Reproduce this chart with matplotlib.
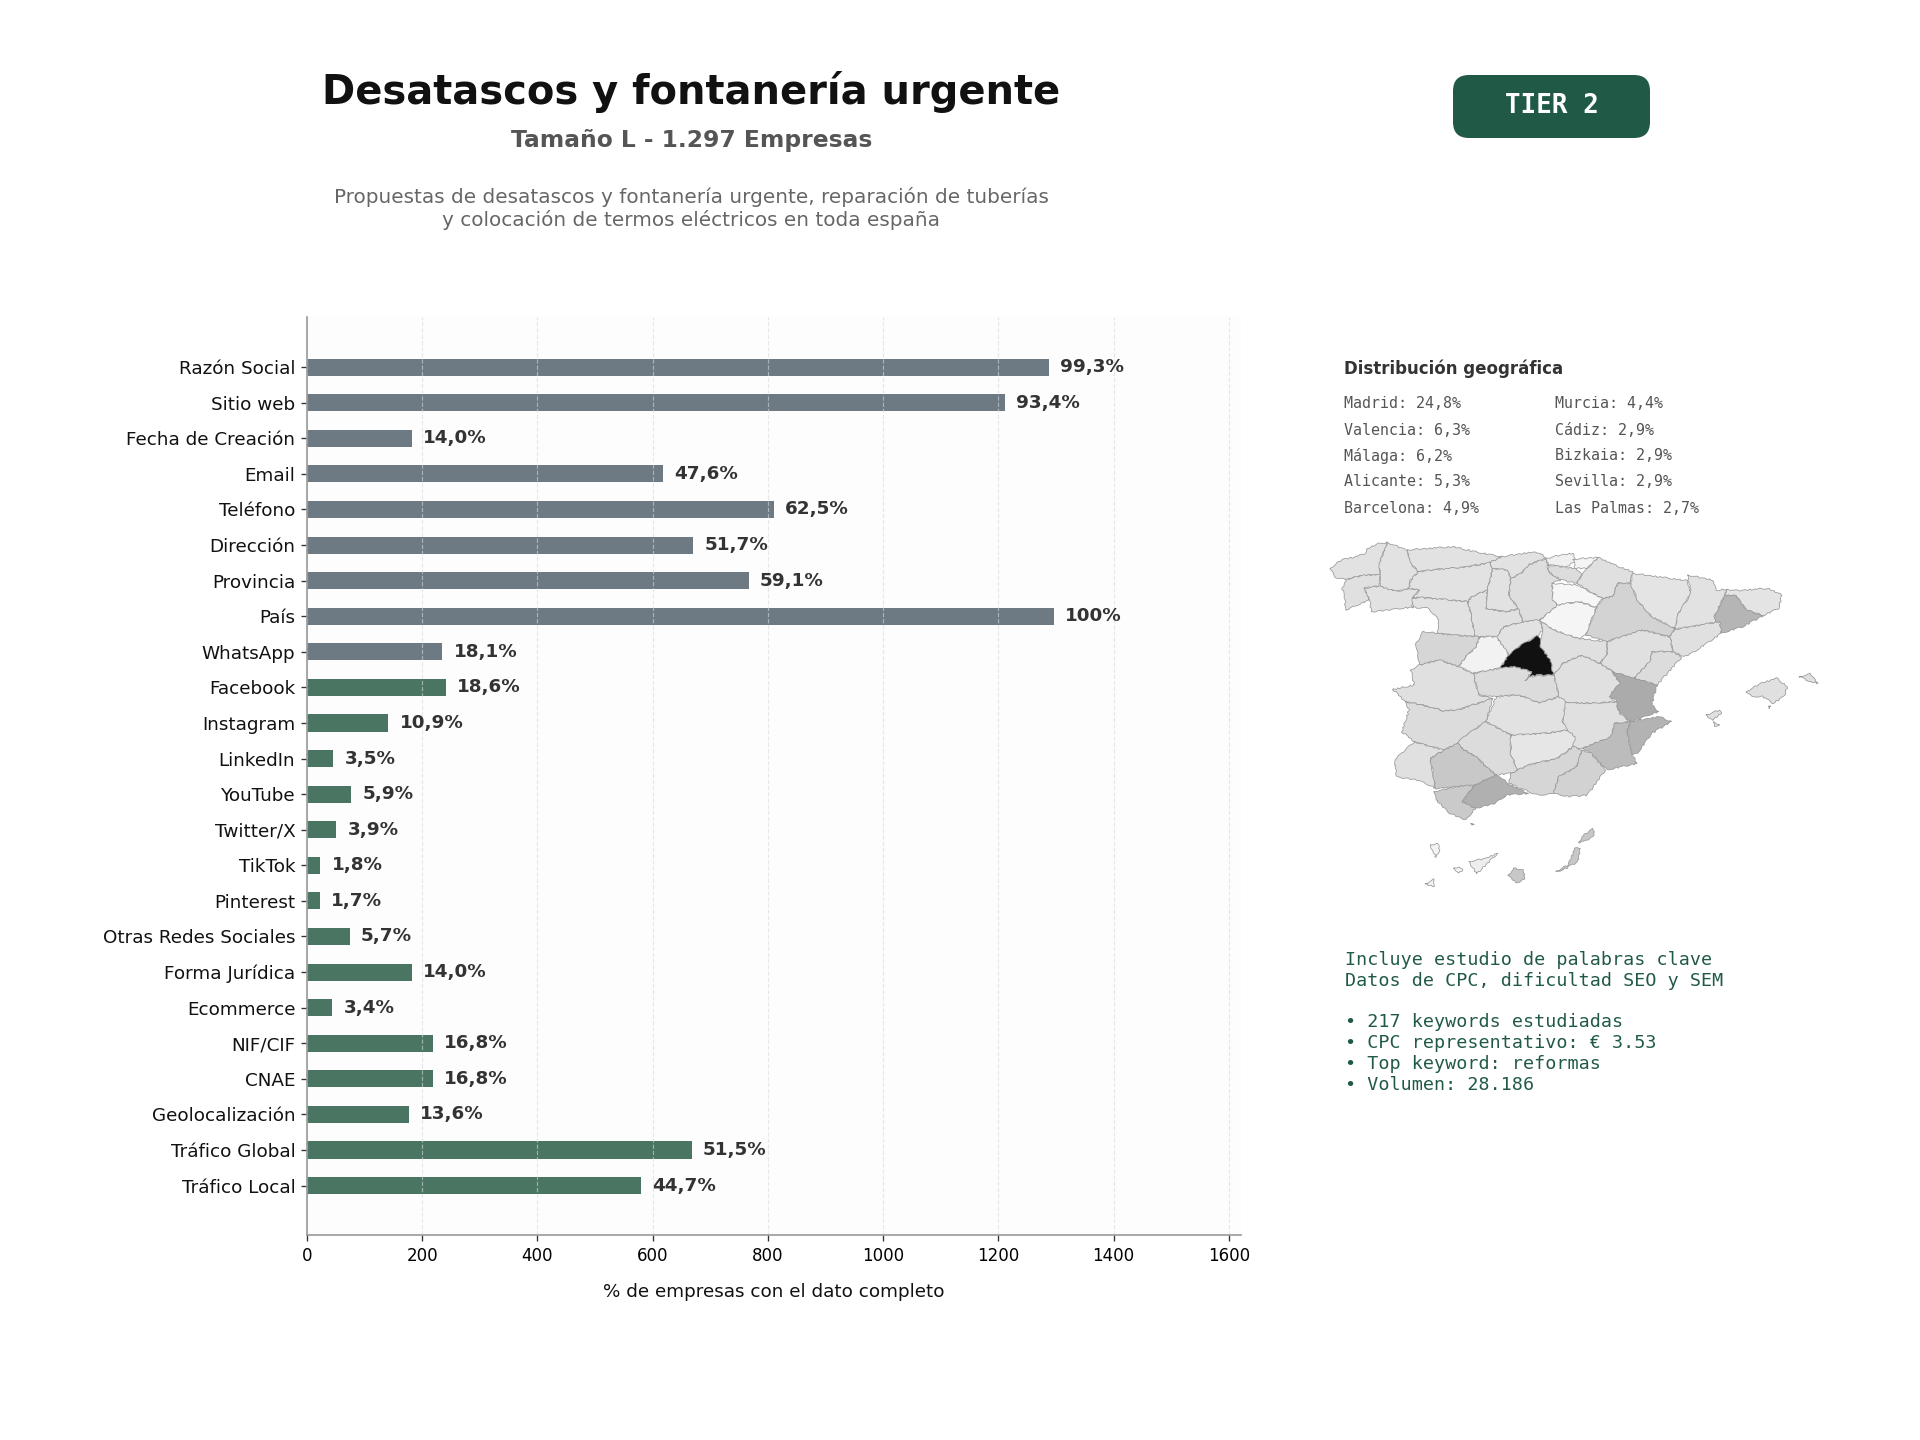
import matplotlib
matplotlib.use('Agg')
import matplotlib.pyplot as plt
from matplotlib.patches import FancyBboxPatch, Polygon

# datos del grafico
titulo = 'Desatascos y fontanería urgente'
subtitulo = 'Tamaño L - 1.297 Empresas'
descripcion = ['Propuestas de desatascos y fontanería urgente, reparación de tuberías',
               'y colocación de termos eléctricos en toda españa']
total_empresas = 1297
campos = ['Razón Social', 'Sitio web', 'Fecha de Creación', 'Email', 'Teléfono', 'Dirección',
          'Provincia', 'País', 'WhatsApp', 'Facebook', 'Instagram', 'LinkedIn', 'YouTube',
          'Twitter/X', 'TikTok', 'Pinterest', 'Otras Redes Sociales', 'Forma Jurídica',
          'Ecommerce', 'NIF/CIF', 'CNAE', 'Geolocalización', 'Tráfico Global', 'Tráfico Local']
porcentajes = [99.3, 93.4, 14.0, 47.6, 62.5, 51.7, 59.1, 100, 18.1, 18.6, 10.9, 3.5, 5.9,
               3.9, 1.8, 1.7, 5.7, 14.0, 3.4, 16.8, 16.8, 13.6, 51.5, 44.7]
n_gris = 9  # los primeros campos van en gris, el resto en verde
ticks_x = [0, 200, 400, 600, 800, 1000, 1200, 1400, 1600]

col_izq = ['Madrid: 24,8%', 'Valencia: 6,3%', 'Málaga: 6,2%', 'Alicante: 5,3%', 'Barcelona: 4,9%']
col_der = ['Murcia: 4,4%', 'Cádiz: 2,9%', 'Bizkaia: 2,9%', 'Sevilla: 2,9%', 'Las Palmas: 2,7%']
bloque_seo = ['Incluye estudio de palabras clave', 'Datos de CPC, dificultad SEO y SEM', '',
              '• 217 keywords estudiadas', '• CPC representativo: € 3.53',
              '• Top keyword: reformas', '• Volumen: 28.186']

# contornos aproximados de las provincias, (contorno, gris de relleno)
provincias = {
    'A Coruña': ([(85,145),(118,118),(150,112),(180,102),(190,85),(225,68),(245,68),(222,130),(225,165),(180,165),(130,178),(100,172)], '#e2e2e2'),
    'Lugo': ([(245,68),(300,90),(310,130),(332,155),(310,180),(305,205),(270,215),(225,200),(225,165),(222,130)], '#e2e2e2'),
    'Pontevedra': ([(130,178),(180,165),(225,165),(222,198),(180,205),(195,240),(128,270),(125,225),(118,205)], '#e0e0e0'),
    'Ourense': ([(180,205),(222,198),(270,215),(305,205),(335,210),(315,235),(315,262),(260,268),(200,275),(195,240)], '#e2e2e2'),
    'Asturias': ([(300,90),(430,80),(490,95),(565,110),(530,128),(470,140),(420,145),(370,150),(332,155),(310,130)], '#e2e2e2'),
    'Cantabria': ([(565,110),(640,98),(672,98),(690,115),(640,135),(620,160),(590,175),(580,150),(540,145),(530,128)], '#e2e2e2'),
    'León': ([(332,155),(370,150),(420,145),(470,140),(530,128),(540,145),(525,210),(480,230),(470,245),(400,238),(335,232),(315,235),(335,210),(305,205),(310,180)], '#e2e2e2'),
    'Palencia': ([(540,145),(580,150),(590,175),(585,225),(612,268),(570,275),(520,265),(525,210)], '#e2e2e2'),
    'Burgos': ([(590,175),(620,160),(640,135),(690,115),(695,155),(730,180),(706,190),(708,240),(722,255),(672,300),(625,305),(612,268),(585,225)], '#dedede'),
    'Bizkaia': ([(690,115),(730,105),(765,100),(770,125),(745,142),(695,135)], '#f0f0f0'),
    'Gipuzkoa': ([(765,118),(835,112),(805,145),(770,145)], '#f4f4f4'),
    'Álava': ([(695,135),(745,142),(770,145),(790,165),(775,190),(730,180),(695,155)], '#dcdcdc'),
    'La Rioja': ([(706,190),(775,195),(830,225),(848,235),(830,262),(780,245),(722,255),(708,240)], '#f6f6f6'),
    'Navarra': ([(805,145),(835,112),(880,135),(932,155),(925,190),(890,190),(875,230),(848,235),(830,225),(775,190),(790,165)], '#e0e0e0'),
    'Zaragoza': ([(875,230),(890,190),(925,190),(945,240),(985,290),(1050,325),(1035,350),(960,330),(900,350),(860,365),(800,345),(830,262),(848,235)], '#d3d3d3'),
    'Huesca': ([(932,160),(1000,170),(1085,182),(1095,220),(1060,280),(1050,325),(985,290),(945,240),(925,190)], '#e4e4e4'),
    'Lleida': ([(1085,165),(1155,180),(1165,210),(1195,208),(1190,225),(1160,290),(1175,305),(1050,328),(1060,280),(1095,220)], '#e2e2e2'),
    'Girona': ([(1195,208),(1225,212),(1310,205),(1350,225),(1340,265),(1297,287),(1250,270),(1222,228),(1190,225)], '#e4e4e4'),
    'Barcelona': ([(1190,225),(1222,228),(1250,270),(1297,287),(1240,320),(1180,340),(1160,295)], '#b5b5b5'),
    'Tarragona': ([(1050,328),(1175,305),(1180,340),(1105,395),(1075,410),(1045,395),(1035,350)], '#e0e0e0'),
    'Teruel': ([(860,365),(900,350),(960,330),(1035,350),(1045,395),(985,395),(980,425),(935,475),(875,455),(840,430),(860,400)], '#e0e0e0'),
    'Castellón': ([(985,395),(1045,395),(1068,412),(1000,495),(935,475),(980,425)], '#dcdcdc'),
    'Valencia': ([(875,455),(935,475),(1000,495),(985,555),(1005,575),(925,605),(890,570),(885,540),(865,530),(895,490)], '#ababab'),
    'Alicante': ([(925,605),(1005,590),(1040,605),(985,640),(945,700),(930,705),(915,635)], '#b3b3b3'),
    'Murcia': ([(880,610),(925,605),(915,635),(930,705),(945,730),(860,750),(815,700),(790,685),(870,650)], '#bcbcbc'),
    'Albacete': ([(740,545),(800,550),(885,545),(895,580),(925,605),(880,610),(870,650),(790,685),(765,680),(735,605)], '#e0e0e0'),
    'Cuenca': ([(735,430),(790,405),(840,430),(875,455),(895,490),(865,530),(885,545),(800,550),(740,545),(725,530),(710,465)], '#e0e0e0'),
    'Guadalajara': ([(672,300),(710,330),(780,355),(860,365),(860,400),(840,430),(790,405),(735,430),(710,465),(700,420),(670,375),(675,355),(680,330)], '#e0e0e0'),
    'Soria': ([(672,300),(722,255),(780,245),(830,262),(800,345),(780,355),(710,330)], '#f5f5f5'),
    'Segovia': ([(570,320),(625,305),(672,300),(680,330),(665,348),(620,375),(585,405),(550,350)], '#e2e2e2'),
    'Valladolid': ([(480,230),(525,210),(520,265),(570,275),(612,268),(625,305),(570,320),(550,350),(505,350),(490,350),(480,290),(470,245)], '#e0e0e0'),
    'Zamora': ([(315,235),(335,232),(400,238),(470,245),(480,290),(490,350),(430,345),(385,340),(390,300),(360,265),(315,262)], '#e2e2e2'),
    'Salamanca': ([(345,335),(385,340),(430,345),(505,350),(490,385),(465,410),(445,440),(390,420),(335,435),(325,370)], '#d6d6d6'),
    'Ávila': ([(505,350),(550,350),(585,405),(560,445),(485,460),(445,440),(465,410),(490,385)], '#f2f2f2'),
    'Madrid': ([(665,348),(675,355),(670,375),(700,420),(710,465),(665,465),(640,470),(630,482),(650,455),(600,440),(560,445),(585,405),(620,375)], '#111111'),
    'Toledo': ([(485,460),(560,445),(600,440),(650,455),(630,482),(640,470),(710,465),(725,530),(670,548),(610,525),(550,530),(500,525)], '#dcdcdc'),
    'Cáceres': ([(310,450),(335,435),(390,420),(445,440),(485,460),(500,525),(540,535),(440,570),(400,572),(340,555),(295,545),(260,508),(320,495)], '#e0e0e0'),
    'Badajoz': ([(295,545),(340,555),(400,572),(440,570),(540,535),(520,605),(460,650),(440,670),(405,690),(365,680),(320,665),(285,635),(305,570)], '#dcdcdc'),
    'Ciudad Real': ([(550,530),(610,525),(670,548),(725,530),(745,545),(735,605),(750,630),(690,640),(590,645),(520,605)], '#e2e2e2'),
    'Córdoba': ([(520,605),(590,645),(590,700),(610,750),(590,760),(550,765),(520,740),(500,715),(460,690),(440,670),(460,650)], '#dcdcdc'),
    'Jaén': ([(590,645),(690,640),(750,630),(770,650),(765,680),(720,715),(640,735),(610,750),(590,700)], '#e6e6e6'),
    'Granada': ([(590,760),(610,750),(640,735),(720,715),(765,680),(790,690),(775,740),(725,770),(710,820),(670,825),(640,815),(585,790)], '#d6d6d6'),
    'Almería': ([(790,690),(815,700),(855,750),(805,825),(750,830),(710,820),(725,770),(775,740)], '#d2d2d2'),
    'Huelva': ([(320,665),(365,680),(405,690),(365,715),(380,805),(330,780),(270,770),(265,720)], '#e0e0e0'),
    'Sevilla': ([(365,715),(405,690),(440,670),(460,690),(500,715),(520,740),(550,765),(490,795),(440,800),(380,805)], '#c8c8c8'),
    'Cádiz': ([(375,815),(440,800),(490,795),(455,845),(495,860),(465,900),(420,880),(385,845)], '#cacaca'),
    'Málaga': ([(490,795),(550,765),(590,795),(640,820),(580,825),(545,850),(490,865),(455,845)], '#b0b0b0'),
    'Mallorca': ([(1250,515),(1290,490),(1335,475),(1365,500),(1355,530),(1325,550),(1295,530),(1265,530)], '#e0e0e0'),
    'Menorca': ([(1398,470),(1430,462),(1450,490),(1430,485)], '#e0e0e0'),
    'Cabrera': ([(1312,558),(1318,558),(1314,566)], '#b0b0b0'),
    'Ibiza': ([(1137,585),(1175,570),(1180,580),(1155,600)], '#e0e0e0'),
    'Formentera': ([(1158,605),(1175,615),(1160,618)], '#e6e6e6'),
    'La Palma': ([(365,975),(385,970),(392,990),(380,1012)], '#f4f4f4'),
    'El Hierro': ([(350,1092),(375,1078),(375,1100)], '#f4f4f4'),
    'La Gomera': ([(430,1045),(445,1040),(455,1050),(445,1060)], '#f4f4f4'),
    'Tenerife': ([(473,1025),(520,1015),(553,1000),(525,1030),(495,1062)], '#eeeeee'),
    'Gran Canaria': ([(583,1065),(600,1045),(625,1050),(630,1075),(605,1090)], '#c8c8c8'),
    'Fuerteventura': ([(717,1055),(750,1035),(770,985),(785,985),(778,1025),(740,1048)], '#c8c8c8'),
    'Lanzarote': ([(780,968),(790,950),(820,925),(825,945),(795,965)], '#c8c8c8'),
    'Ceuta': ([(478,910),(488,912),(482,916)], '#b8b8b8'),
}

gris = '#6e7a83'
verde = '#4a7563'
verde_osc = '#205a46'

fig = plt.figure(figsize=(16, 12), dpi=120, facecolor='white')


def px_x(x):
    return x / 1920


def px_y(y):
    return 1 - y / 1440


# cabecera
fig.text(px_x(691), px_y(92), titulo, fontsize=24, fontweight='bold', color='#111111', ha='center', va='center')
fig.text(px_x(692), px_y(141), subtitulo, fontsize=14, fontweight='bold', color='#555555', ha='center', va='center')
fig.text(px_x(691), px_y(197), descripcion[0], fontsize=12, color='#666666', ha='center', va='center')
fig.text(px_x(691), px_y(220), descripcion[1], fontsize=12, color='#666666', ha='center', va='center')

# etiqueta del tier
badge = FancyBboxPatch((1453, 1440 - 138), 197, 63, transform=None,
                       boxstyle='round,pad=0,rounding_size=16',
                       facecolor=verde_osc, edgecolor=verde_osc, linewidth=0)
fig.add_artist(badge)
fig.text(px_x(1552), px_y(106), 'TIER 2', fontsize=15.5, fontweight='bold', family='DejaVu Sans Mono',
         color='white', ha='center', va='center')

# barras
ax = fig.add_axes([px_x(307), px_y(1235), px_x(934), 918 / 1440])
ax.set_facecolor('#fdfdfd')
valores = [p * total_empresas / 100 for p in porcentajes]
colores = [gris if i < n_gris else verde for i in range(len(campos))]
pos = list(range(len(campos)))
ax.barh(pos, valores, height=0.48, color=colores)
ax.set_yticks(pos)
ax.set_yticklabels(campos, fontsize=11, color='#111111')
ax.set_xticks(ticks_x)
ax.set_xlim(0, total_empresas * 1.25)
ax.set_ylim(len(campos) - 1 + 1.39, -1.41)
ax.tick_params(axis='x', labelsize=10, color='#333333', length=3.5)
ax.tick_params(axis='y', color='#333333', length=3.5)
ax.grid(axis='x', color='#d5dae0', linestyle='--', linewidth=0.7, alpha=0.6)
ax.set_xlabel('% de empresas con el dato completo', fontsize=11, color='#111111', labelpad=11)
for lado in ['top', 'right']:
    ax.spines[lado].set_visible(False)
for lado in ['left', 'bottom']:
    ax.spines[lado].set_color('#999999')
    ax.spines[lado].set_linewidth(1)

for y, v, p in zip(pos, valores, porcentajes):
    texto = '100%' if p == 100 else f'{p:.1f}%'.replace('.', ',')
    ax.text(v + total_empresas * 0.015, y, texto, fontsize=11, fontweight='bold', color='#333333', va='center')

# distribucion geografica
fig.text(px_x(1344), px_y(369), 'Distribución geográfica', fontsize=10, fontweight='bold', color='#333333', va='center')
for i, (a, b) in enumerate(zip(col_izq, col_der)):
    yy = 404 + i * 26
    fig.text(px_x(1344), px_y(yy), a, fontsize=9, family='DejaVu Sans Mono', color='#555555', va='center')
    fig.text(px_x(1555), px_y(yy), b, fontsize=9, family='DejaVu Sans Mono', color='#555555', va='center')

# mapa de provincias
ax_map = fig.add_axes([px_x(1300), px_y(900), px_x(560), 380 / 1440])
ax_map.set_xlim(0, 1568)
ax_map.set_ylim(1140, 0)
ax_map.axis('off')
for nombre, (contorno, tono) in provincias.items():
    parche = Polygon(contorno, closed=True, facecolor=tono, edgecolor='#969696', linewidth=0.45, joinstyle='round')
    parche.set_sketch_params(scale=0.7, length=12, randomness=6)
    ax_map.add_patch(parche)

# bloque de palabras clave
for i, linea in enumerate(bloque_seo):
    if linea:
        fig.text(px_x(1345), px_y(960 + i * 20.8), linea, fontsize=11, family='DejaVu Sans Mono', color=verde_osc, va='center')

fig.savefig('out.png', dpi=120, facecolor='white')
